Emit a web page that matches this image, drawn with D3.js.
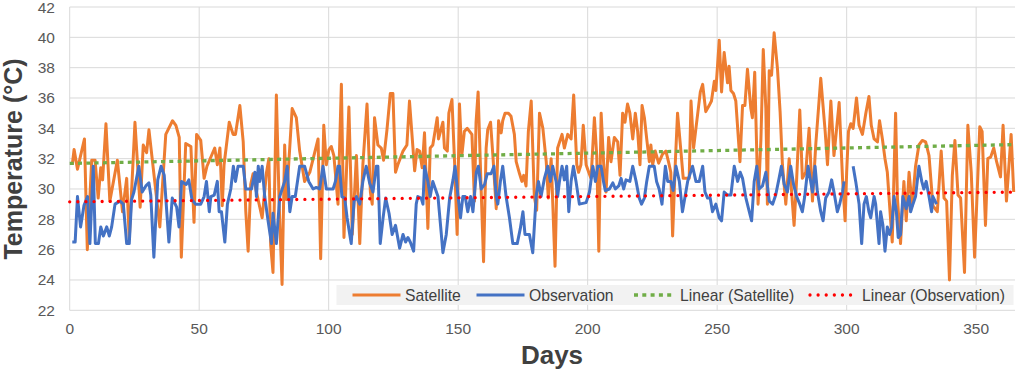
<!DOCTYPE html>
<html>
<head>
<meta charset="utf-8">
<script src="https://cdn.jsdelivr.net/npm/d3@7"></script>
<style>
  body { margin: 0; background: #fff; }
  text { font-family: "Liberation Sans", Arial, sans-serif; }
</style>
</head>
<body>
<svg width="1024" height="375"></svg>
<script>
// [day, temperature]
const satellite = [
  [1,31.6],[1.7,32.6],[3,31.3],[5.7,33.3],[6.8,26.0],[8.5,31.9],[9.8,31.9],[11,29.4],[12,31.4],[12.7,30.6],
  [14,34.3],[15.5,29.2],[18.4,31.9],[20.4,28.5],[22,30.7],[23,26.7],[25.2,34.4],[27.2,28.8],[28.4,32.9],[29.7,32.4],
  [30.6,33.9],[34.8,27.5],[37.1,33.6],[39.7,34.5],[41,34.2],[42.3,33.4],[43.1,25.5],[44.8,33.0],[45.8,32.9],[46.8,32.8],
  [48,27.8],[49,33.6],[50.6,33.2],[51.9,30.7],[53,31.5],[56,32.7],[57,31.6],[58,32.7],[58.9,28.9],[59.6,31.6],
  [61.6,34.4],[63.1,33.6],[64,33.6],[65.7,35.5],[67,33.1],[68,28.5],[68.9,25.9],[69.9,30.3],[70.8,31.0],[72.1,29.8],
  [74.3,28.1],[76,31.1],[76.9,32.0],[77.6,26.3],[78.5,24.5],[79.8,36.2],[80.9,28.9],[82,23.7],[83,32.9],[83.7,29.3],
  [85.9,35.3],[87.5,34.7],[88.8,32.5],[90.7,30.5],[92.7,31.1],[95.9,33.3],[96.9,25.4],[98.1,34.2],[99.1,31.6],[100.1,32.6],
  [101,32.8],[102,32.2],[103.6,29.0],[104.9,36.9],[105.9,26.8],[107.8,35.4],[109.1,27.0],[110,29.8],[110.7,32.2],[112,26.4],
  [113.2,31.6],[114.8,35.6],[116.1,29.8],[116.8,29.0],[117.7,34.7],[119,32.9],[120.3,32.7],[121.2,31.9],[122.5,33.9],[123.8,36.3],
  [124.8,36.3],[125.8,31.1],[126.7,31.6],[128.7,32.5],[130.2,32.9],[131.2,35.8],[133.2,31.2],[134.1,32.6],[135.1,32.5],[136.1,31.4],
  [137,33.7],[138.3,27.4],[139.2,32.7],[140.2,32.9],[141.9,34.7],[142.4,33.3],[144.1,34.4],[144.7,32.7],[145.8,32.5],[146.4,35.0],
  [147.6,35.9],[148.6,31.8],[149.6,27.0],[150.5,35.6],[151.4,32.2],[152.4,33.8],[153.5,34.0],[155.3,33.6],[156.3,29.2],[156.9,34.4],
  [157.7,36.4],[158.9,29.8],[159.8,25.2],[160.8,32.7],[161.4,33.9],[162.5,34.4],[163.4,32.2],[164.7,28.7],[165.6,34.5],[166.6,33.7],
  [167.2,34.5],[168.1,35.0],[169.4,35.0],[170.4,34.8],[171.7,33.6],[172.4,31.8],[173.7,31.0],[174.6,30.5],[175.3,30.9],[176.2,30.2],
  [177.1,33.8],[178.2,35.8],[179.4,29.5],[180.3,28.6],[181.4,35.0],[182.7,34.0],[184,31.8],[184.8,29.4],[185.9,32.0],[187.4,24.9],
  [188.4,32.7],[190.1,33.6],[191,32.7],[192.3,33.6],[193.6,33.3],[194.6,36.2],[195.8,31.6],[196.5,31.1],[197.4,31.6],[198.3,34.2],
  [199.4,31.6],[200.4,31.1],[201.3,30.7],[202.6,34.7],[203.5,32.2],[204.3,25.9],[205.2,35.0],[206.2,31.6],[207.1,29.8],[208.1,33.4],
  [209,31.8],[210.3,33.4],[211.6,33.1],[212.5,30.9],[213.5,35.0],[214.4,34.4],[215.4,35.6],[216.3,35.0],[217.4,33.3],[218.4,35.0],
  [219.3,33.8],[220.2,31.6],[221,35.5],[221.9,34.7],[222.8,33.3],[223.8,31.8],[224.4,32.9],[225.1,31.6],[226.1,32.5],[227.4,31.7],
  [228.9,32.3],[230.2,32.5],[231.2,31.8],[232.1,31.1],[232.8,26.9],[233.8,31.6],[234.7,35.0],[236,32.5],[236.9,30.7],[238.3,30.7],
  [239.2,30.7],[239.9,35.8],[240.9,32.7],[241.8,34.0],[243.5,36.4],[244.4,36.9],[245.6,35.1],[246.9,35.5],[247.8,35.8],[248.9,37.1],
  [249.5,36.5],[250.8,39.8],[251.7,36.4],[252.7,39.0],[254,37.0],[254.6,38.1],[255.3,36.5],[256.3,36.3],[257.2,35.8],[258.8,31.8],
  [259.8,35.5],[260.7,35.5],[261.7,37.9],[263,35.3],[263.6,34.7],[264.5,37.7],[265.8,29.0],[266.9,33.3],[267.8,39.2],[268.8,35.3],
  [269.4,29.0],[270.1,37.8],[271,37.5],[272,40.3],[273.3,37.9],[274.3,35.1],[275.2,31.6],[276.5,29.0],[277.8,32.0],[279.7,27.6],
  [280.7,30.7],[281.9,35.2],[282.9,30.7],[284.2,31.1],[285.5,34.0],[286.8,29.2],[288.1,33.0],[290,37.3],[291.7,33.8],[292.6,31.6],
  [293.9,35.8],[295.1,32.2],[297.1,35.7],[298.4,30.7],[299.4,27.9],[300,31.1],[300.7,33.8],[301.6,34.3],[302.5,34.0],[303.8,36.0],
  [304.8,34.2],[306.1,33.6],[307.4,35.0],[308.6,36.1],[309.5,34.2],[310.6,33.3],[311.9,33.1],[312.7,34.5],[313.8,33.3],[314.8,32.0],
  [315.7,31.1],[317,27.9],[317.6,26.5],[318.9,35.0],[319.6,29.4],[320.8,26.4],[322.1,30.5],[323,27.9],[324.1,31.1],[325.3,28.9],
  [326.6,31.5],[327.9,32.9],[329.2,33.2],[330.5,33.1],[331.8,32.2],[333.3,28.9],[335,28.5],[336.5,32.5],[337.6,29.4],[338.6,29.2],
  [339.7,24.0],[340.8,30.9],[341.8,33.2],[343,29.6],[344,29.4],[345.5,24.5],[346.8,34.2],[348.1,31.1],[349.4,25.5],[351.4,34.1],
  [352.3,33.8],[353.6,27.6],[354.5,32.0],[355.6,32.1],[356.8,32.7],[357.9,31.8],[359.4,30.8],[360.4,34.2],[361.7,29.2],[363.5,33.6],
  [364.5,29.8]
]

// null = missing days in the observation record
const observation = [
  [1,26.5],[2.1,26.5],[3,29.5],[4.2,27.5],[5.5,28.9],[6.9,29.5],[7.8,26.4],[9.1,31.5],[9.9,26.4],[11.1,26.4],
  [12,27.5],[13,26.9],[14.3,27.5],[15.3,26.9],[16.2,27.5],[17.5,29.0],[19.4,29.2],[20.7,29.0],[22,26.4],[23,26.4],
  [23.9,29.3],[24.8,29.8],[26.7,31.5],[28,29.8],[29.4,30.2],[30.6,30.4],[31.3,29.6],[32.5,25.5],[34,30.6],[35.3,31.5],
  [36.5,30.9],[38.3,26.5],[39.6,29.4],[41.3,28.8],[42.2,27.5],[43.2,30.5],[45,30.3],[46,30.6],[47.2,29.3],[48.6,29.0],
  [50.6,29.0],[51.9,29.5],[52.8,30.5],[53.9,28.5],[54.5,29.5],[55.8,29.6],[57,30.5],[57.7,28.5],[58.6,28.5],[59.9,26.5],
  [60.9,29.0],[62.2,30.0],[63.2,31.5],[64,30.5],[65,31.5],[67,31.5],[68,30.0],[70.2,30.0],[71.5,31.1],[72.1,29.5],
  [72.8,31.5],[73.4,30.5],[74.3,31.5],[75.3,29.5],[76.6,27.9],[77.9,26.4],[78.5,28.4],[79.8,26.4],[81.1,29.5],[83,30.5],
  [84,31.5],[85,28.5],[85.9,29.5],[87.1,29.5],[88.8,31.5],[90.7,31.5],[92.3,30.5],[94,30.0],[95.2,30.1],[96.5,30.0],
  [97.8,31.5],[99.1,30.0],[101.7,30.0],[102.6,30.5],[103.6,31.5],[104.2,31.5],[105.1,29.5],[106.2,29.4],[107.1,28.1],[108.7,26.4],
  [109.8,29.2],[110.7,29.5],[112,29.0],[113.2,30.5],[114.5,31.5],[115.8,30.4],[117.1,29.8],[118.4,31.5],[119,31.5],[119.9,26.4],
  [121,28.1],[122,29.4],[123.3,28.4],[124.5,27.0],[125.8,27.6],[127.4,26.1],[128.7,27.0],[129.7,26.5],[130.6,26.8],[131.5,26.5],
  [132.8,25.9],[133.8,29.0],[134.4,29.5],[135.7,29.4],[136.4,29.0],[137,31.5],[138.3,30.5],[139.2,29.5],[140.2,30.5],[142.2,29.5],
  [143.5,27.0],[144.1,25.8],[145.4,27.0],[146.7,29.4],[148,30.6],[148.8,31.5],[149.9,29.6],[150.9,28.1],[151.8,29.5],[152.7,29.5],
  [153.7,28.5],[154.8,29.5],[155.7,28.5],[157,31.1],[157.8,31.5],[158.9,30.0],[160.2,30.3],[161.2,31.0],[162.7,31.0],[163.8,31.5],
  [164.7,29.5],[165.3,29.0],[166.3,30.5],[167.2,31.5],[168.5,29.5],[169.8,28.1],[171.1,26.4],[172.8,26.4],[174,27.4],[175,28.5],
  [175.8,27.0],[177.5,27.0],[178.8,25.8],[180.1,29.5],[181,30.5],[182,29.5],[183.3,30.7],[184.6,31.5],[185.6,30.5],[186.5,31.5],
  [187.8,30.5],[188.4,29.5],[189.1,30.5],[190.1,31.5],[191,30.6],[191.9,31.5],[192.7,28.5],[193.6,30.5],[194.5,31.5],[195.5,30.5],
  [196.8,29.0],[199.4,29.1],[200.7,29.8],[202,31.5],[203,30.5],[203.9,31.5],[205.2,31.5],[206.1,30.5],[206.8,29.9],[208.4,30.0],
  [209.7,30.4],[210.7,30.0],[212,30.2],[212.9,30.7],[213.9,30.0],[214.8,30.6],[216.3,30.5],[217.4,31.5],[218.7,30.5],[219.9,29.4],
  [220.8,29.0],[221.9,29.4],[222.8,30.5],[223.8,31.5],[225.7,31.5],[226.6,30.5],[227.6,30.0],[228.7,29.0],[230,31.5],[230.9,30.5],
  [232.1,30.5],[233,29.9],[234.1,31.5],[235.4,30.5],[236.6,28.5],[238.6,30.5],[240.5,31.5],[241.8,30.5],[243.1,30.5],[244.4,31.5],
  [245.3,29.8],[246.3,29.4],[247.3,29.4],[248.2,28.5],[249.5,29.0],[250.8,28.1],[251.7,27.9],[252.7,29.8],[254,29.6],[255.3,29.6],
  [256.6,31.5],[257.9,30.5],[258.9,31.1],[259.8,30.7],[261.1,29.4],[262.4,28.5],[263.3,27.9],[264.3,30.5],[265.3,31.5],[266.2,30.0],
  [267.5,30.2],[268.8,31.1],[270.1,29.2],[271.4,29.0],[272.6,29.6],[273.9,30.7],[274.8,31.5],[275.9,30.3],[277.1,29.8],[278.4,31.5],
  [279.5,30.3],[280.7,29.5],[281.9,29.0],[282.9,28.5],[283.8,29.5],[285.1,31.5],[286.8,29.8],[287.8,31.5],[288.7,29.8],[290,28.5],
  [290.9,27.9],[291.9,29.4],[293.2,29.8],[294.2,30.6],[295.1,29.8],[296.4,28.5],[297.3,29.0],[298.4,29.8],[299,30.5],[300.5,null],
  [302.5,31.5],[303.5,30.5],[304.8,29.0],[305.8,26.4],[306.7,29.0],[307.6,29.5],[308.6,28.5],[309.3,28.1],[310.6,29.5],[311.2,29.0],
  [312.5,26.4],[313.1,28.5],[314,27.6],[314.8,25.9],[315.7,27.5],[316.6,27.0],[317.4,27.5],[318.3,29.5],[319.2,28.5],[319.9,26.8],
  [320.8,27.0],[321.7,29.5],[323,28.7],[324.1,29.5],[324.7,28.5],[325.6,29.0],[326.6,29.5],[327.9,31.5],[329,30.5],[329.8,30.0],
  [330.7,30.5],[331.8,29.5],[332.8,28.5],[333.3,29.5],[334.7,29.0]
]

const xTicks = [0, 50, 100, 150, 200, 250, 300, 350]
const yTicks = [22, 24, 26, 28, 30, 32, 34, 36, 38, 40, 42]
const legendLabels = ['Satellite', 'Observation', 'Linear (Satellite)', 'Linear (Observation)']

const svg = d3.select('svg')

const x = d3.scaleLinear().domain([0, 365]).range([69.7, 1015])
const y = d3.scaleLinear().domain([22, 42]).range([310.3, 7])

// grid
svg.append('g').selectAll('line').data(yTicks).enter().append('line')
  .attr('x1', x(0)).attr('x2', x(365))
  .attr('y1', d => y(d)).attr('y2', d => y(d))
  .attr('stroke', '#d9d9d9').attr('stroke-width', 1)

svg.append('g').selectAll('line').data(xTicks).enter().append('line')
  .attr('x1', d => x(d)).attr('x2', d => x(d))
  .attr('y1', y(42)).attr('y2', y(22))
  .attr('stroke', '#d9d9d9').attr('stroke-width', 1)

// tick labels
svg.append('g').selectAll('text').data(yTicks).enter().append('text')
  .attr('x', 55).attr('y', d => y(d) + 5.5)
  .attr('text-anchor', 'end').attr('font-size', 15.5).attr('fill', '#595959')
  .text(d => d)

svg.append('g').selectAll('text').data(xTicks).enter().append('text')
  .attr('x', d => x(d)).attr('y', 334)
  .attr('text-anchor', 'middle').attr('font-size', 15.5).attr('fill', '#595959')
  .text(d => d)

// axis titles
svg.append('text')
  .attr('transform', 'translate(22,159) rotate(-90)')
  .attr('text-anchor', 'middle').attr('font-size', 25).attr('font-weight', 'bold')
  .attr('fill', '#404040')
  .text('Temperature (°C)')

svg.append('text')
  .attr('x', 552).attr('y', 364)
  .attr('text-anchor', 'middle').attr('font-size', 26).attr('font-weight', 'bold')
  .attr('fill', '#404040')
  .text('Days')

// least squares trend, like the spreadsheet "Linear" trendline
function trend(points) {
  const p = points.filter(d => d[1] != null)
  const mx = d3.mean(p, d => d[0])
  const my = d3.mean(p, d => d[1])
  const b = d3.sum(p, d => (d[0] - mx) * (d[1] - my)) / d3.sum(p, d => (d[0] - mx) ** 2)
  const a = my - b * mx
  return [[0, a], [365, a + b * 365]]
}

const line = d3.line()
  .defined(d => d[1] != null)
  .x(d => x(d[0])).y(d => y(d[1]))

svg.append('path').datum(satellite).attr('d', line)
  .attr('fill', 'none').attr('stroke', '#ed7d31').attr('stroke-width', 3)
  .attr('stroke-linejoin', 'round')

svg.append('path').datum(observation).attr('d', line)
  .attr('fill', 'none').attr('stroke', '#4472c4').attr('stroke-width', 3)
  .attr('stroke-linejoin', 'round')

svg.append('path').datum(trend(satellite)).attr('d', line)
  .attr('fill', 'none').attr('stroke', '#70ad47').attr('stroke-width', 3.3)
  .attr('stroke-dasharray', '4 4.3')

svg.append('path').datum(trend(observation)).attr('d', line)
  .attr('fill', 'none').attr('stroke', '#ff0000').attr('stroke-width', 3.3)
  .attr('stroke-linecap', 'round').attr('stroke-dasharray', '0.01 8.1')

// legend
const legend = svg.append('g')
legend.append('rect')
  .attr('x', 336.5).attr('y', 285).attr('width', 677).attr('height', 20)
  .attr('fill', '#f2f2f2')

const legendItems = [
  { x1: 352.5, x2: 400.5, tx: 405, color: '#ed7d31', dash: null, cap: 'butt' },
  { x1: 476.5, x2: 524.5, tx: 529, color: '#4472c4', dash: null, cap: 'butt' },
  { x1: 634, x2: 675, tx: 680, color: '#70ad47', dash: '4 4.3', cap: 'butt' },
  { x1: 810, x2: 855, tx: 862, color: '#ff0000', dash: '0.01 8.1', cap: 'round' }
]

legendItems.forEach((d, i) => {
  legend.append('line')
    .attr('x1', d.x1).attr('x2', d.x2).attr('y1', 295).attr('y2', 295)
    .attr('stroke', d.color).attr('stroke-width', i < 2 ? 3 : 3.3)
    .attr('stroke-dasharray', d.dash).attr('stroke-linecap', d.cap)
  legend.append('text')
    .attr('x', d.tx).attr('y', 300.5)
    .attr('font-size', 15.7).attr('fill', '#404040')
    .text(legendLabels[i])
})
</script>
</body>
</html>
